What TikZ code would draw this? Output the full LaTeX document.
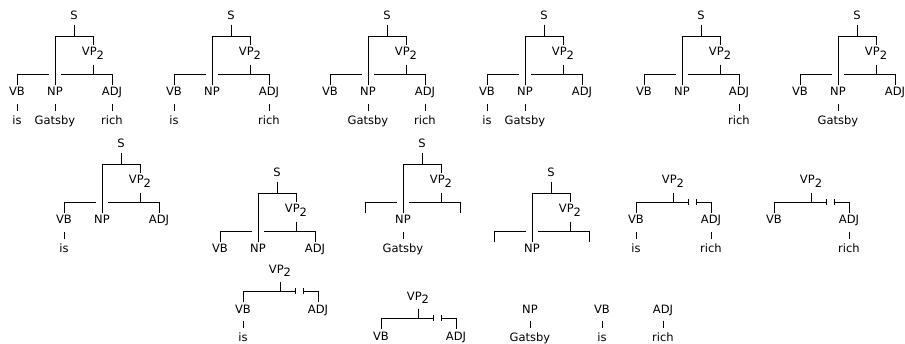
\documentclass[tikz,border=0pt]{standalone}
\usepackage{fontspec}
\setmainfont{DejaVu Sans}
\usetikzlibrary{positioning,arrows.meta}

\newcommand{\vptwo}{VP\raisebox{-3.3pt}{2}}

\tikzset{
  lbl/.style={inner sep=2pt, text height=8.5pt, text depth=2.5pt,
    font=\fontsize{11.5}{13}\selectfont},
  branch/.style={line width=0.8pt},
  stem/.style={branch, shorten <=4pt},
  leaf/.style={branch, shorten <=3pt, shorten >=3pt},
  gapl/.style={branch, -{Bar[width=6pt]}},
  gapr/.style={branch, {Bar[width=6pt]}-},
  node distance=13pt
}

% S tree: name, shift, VB text, ADJ text
\newcommand{\stree}[4]{%
  \begin{scope}[shift={#2}]
    \node[lbl] (#1s) at (19,76) {S};
    \node[lbl] (#1vp) at (38,40) {\vptwo};
    \node[lbl] (#1vb) at (-38,0) {#3};
    \node[lbl] (#1np) at (0,0) {NP};
    \node[lbl] (#1adj) at (57,0) {#4};
    \coordinate (#1j) at (0,57);
    \coordinate (#1k) at (38,19);
    \coordinate (#1gl) at (-6,19);
    \coordinate (#1gr) at (6,19);
    \draw[branch] (#1s.south) -- (#1s.south |- #1j);
    \draw[branch] (#1np.north) -- (#1j) -| (#1vp.north);
    \draw[stem] (#1vp.south) -- (#1k);
    \draw[branch] (#1vb.north) |- (#1gl);
    \draw[branch] (#1gr) -| (#1adj.north);
  \end{scope}}

% VP tree with the NP cut out
\newcommand{\vptree}[2]{%
  \begin{scope}[shift={#2}]
    \node[lbl] (#1vp) at (0,40) {\vptwo};
    \node[lbl] (#1vb) at (-37,0) {VB};
    \node[lbl] (#1adj) at (38,0) {ADJ};
    \coordinate (#1k) at (0,19);
    \coordinate (#1gl) at (16,19);
    \coordinate (#1gr) at (23,19);
    \draw[stem] (#1vp.south) -- (#1k);
    \draw[gapl] (#1vb.north) |- (#1gl);
    \draw[gapr] (#1gr) -| (#1adj.north);
  \end{scope}}

\begin{document}
\begin{tikzpicture}[x=1pt,y=1pt]

\useasboundingbox (0,0) rectangle (905,343);

% row 1
\stree{t1}{(55,250)}{VB}{ADJ}
\node[lbl, below=of t1vb] (t1is) {is};
\node[lbl, below=of t1np] (t1gatsby) {Gatsby};
\node[lbl, below=of t1adj] (t1rich) {rich};
\draw[leaf] (t1vb) -- (t1is);
\draw[leaf] (t1np) -- (t1gatsby);
\draw[leaf] (t1adj) -- (t1rich);

\stree{t2}{(212,250)}{VB}{ADJ}
\node[lbl, below=of t2vb] (t2is) {is};
\node[lbl, below=of t2adj] (t2rich) {rich};
\draw[leaf] (t2vb) -- (t2is);
\draw[leaf] (t2adj) -- (t2rich);

\stree{t3}{(368,250)}{VB}{ADJ}
\node[lbl, below=of t3np] (t3gatsby) {Gatsby};
\node[lbl, below=of t3adj] (t3rich) {rich};
\draw[leaf] (t3np) -- (t3gatsby);
\draw[leaf] (t3adj) -- (t3rich);

\stree{t4}{(525,250)}{VB}{ADJ}
\node[lbl, below=of t4vb] (t4is) {is};
\node[lbl, below=of t4np] (t4gatsby) {Gatsby};
\draw[leaf] (t4vb) -- (t4is);
\draw[leaf] (t4np) -- (t4gatsby);

\stree{t5}{(682,250)}{VB}{ADJ}
\node[lbl, below=of t5adj] (t5rich) {rich};
\draw[leaf] (t5adj) -- (t5rich);

\stree{t6}{(838,250)}{VB}{ADJ}
\node[lbl, below=of t6np] (t6gatsby) {Gatsby};
\draw[leaf] (t6np) -- (t6gatsby);

% row 2
\stree{t7}{(102,122)}{VB}{ADJ}
\node[lbl, below=of t7vb] (t7is) {is};
\draw[leaf] (t7vb) -- (t7is);

\stree{t8}{(258,93)}{VB}{ADJ}

\stree{t9}{(403,122)}{}{}
\node[lbl, below=of t9np] (t9gatsby) {Gatsby};
\draw[leaf] (t9np) -- (t9gatsby);

\stree{t10}{(532,93)}{}{}

\vptree{t11}{(673,122)}
\node[lbl, below=of t11vb] (t11is) {is};
\node[lbl, below=of t11adj] (t11rich) {rich};
\draw[leaf] (t11vb) -- (t11is);
\draw[leaf] (t11adj) -- (t11rich);

\vptree{t12}{(811,122)}
\node[lbl, below=of t12adj] (t12rich) {rich};
\draw[leaf] (t12adj) -- (t12rich);

% row 3
\vptree{t13}{(280,33)}
\node[lbl, below=of t13vb] (t13is) {is};
\draw[leaf] (t13vb) -- (t13is);

\vptree{t14}{(418,6)}

\node[lbl] (t15np) at (530,33) {NP};
\node[lbl, below=of t15np] (t15gatsby) {Gatsby};
\draw[leaf] (t15np) -- (t15gatsby);

\node[lbl] (t16vb) at (602,33) {VB};
\node[lbl, below=of t16vb] (t16is) {is};
\draw[leaf] (t16vb) -- (t16is);

\node[lbl] (t17adj) at (663,33) {ADJ};
\node[lbl, below=of t17adj] (t17rich) {rich};
\draw[leaf] (t17adj) -- (t17rich);

\end{tikzpicture}
\end{document}
